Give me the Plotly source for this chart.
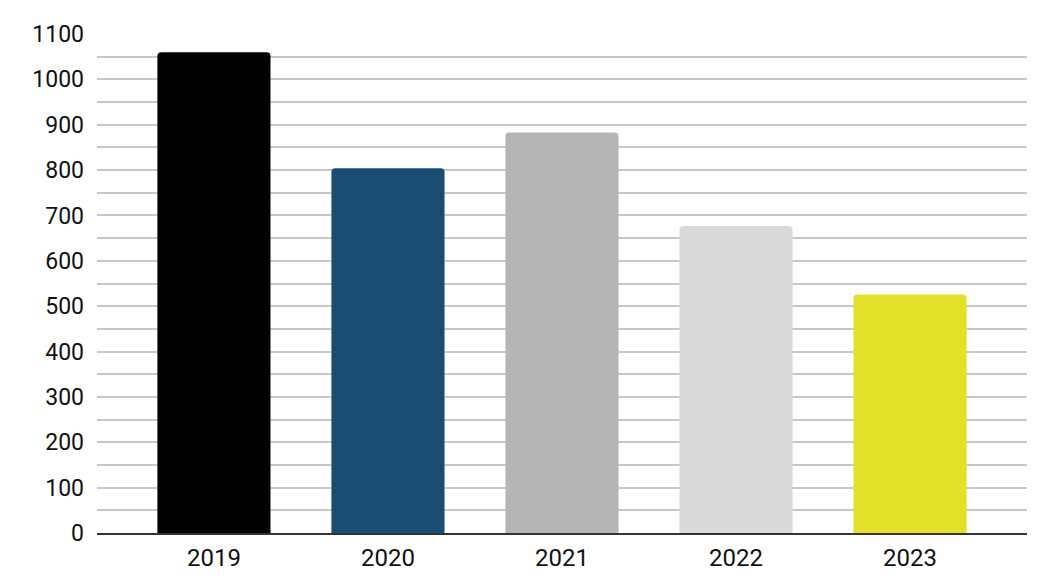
import plotly.graph_objects as go

years = ["2019", "2020", "2021", "2022", "2023"]
values = [1060, 804, 883, 677, 526]
colors = ["#000000", "#194d72", "#b5b5b5", "#d9d9d9", "#e2e028"]

fig = go.Figure(go.Bar(
    x=years, y=values,
    marker=dict(color=colors, line=dict(width=0), cornerradius=4),
))

fig.update_layout(
    width=1042, height=565,
    margin=dict(l=89, r=23, t=26, b=40),
    paper_bgcolor="white", plot_bgcolor="white",
    bargap=0.35,
    showlegend=False,
    font=dict(family="Roboto", size=23, color="#111111"),
)
fig.update_xaxes(
    range=[-0.672, 4.672], automargin=False,
    showline=True, linecolor="#333333", linewidth=2,
    ticks="", showgrid=False, tickfont=dict(size=24, color="#111111"),
    ticklabelstandoff=2,
)
fig.update_yaxes(
    range=[0, 1100], dtick=100, tick0=0, automargin=False,
    showgrid=True, gridcolor="#c8c8c8", gridwidth=1.5,
    minor=dict(dtick=50, showgrid=True, gridcolor="#c8c8c8", gridwidth=1.5),
    zeroline=False, ticks="", ticklabelstandoff=12,
    tickfont=dict(size=23, color="#111111"),
)

fig.write_html("out.html")
